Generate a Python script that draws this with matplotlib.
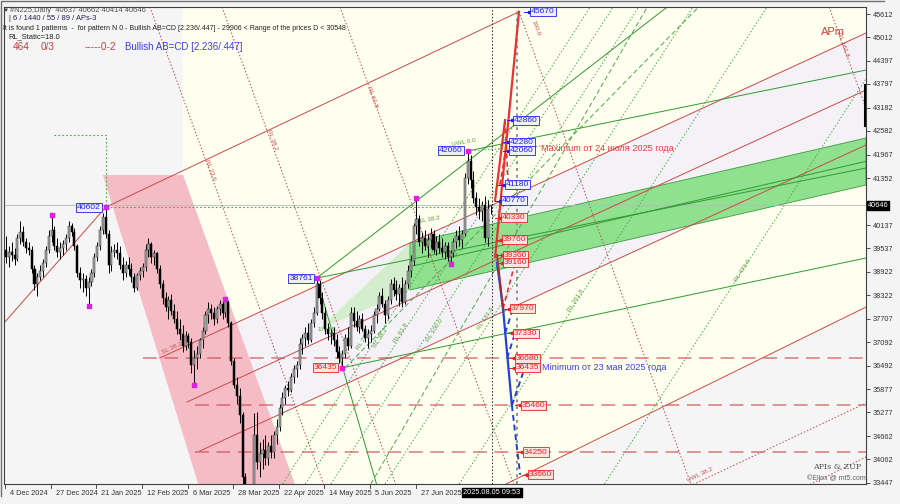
import numpy as np
import matplotlib
matplotlib.use('Agg')
import matplotlib.pyplot as plt
from matplotlib.patches import Polygon, Rectangle
from matplotlib.transforms import blended_transform_factory

plt.rcParams['font.family'] = ['Liberation Sans', 'DejaVu Sans']

# ---- data -----------------------------------------------------------------
date_labels = ['4 Dec 2024', '27 Dec 2024', '21 Jan 2025', '12 Feb 2025', '6 Mar 2025',
               '28 Mar 2025', '22 Apr 2025', '14 May 2025', '5 Jun 2025', '27 Jun 2025']
date_bars = [0, 16, 32, 48, 64, 80, 96, 112, 128, 144]

opens = [39500, 39300, 39450, 39350, 39250, 39800, 39950, 39700, 39550, 39500,
         39000, 38600, 38800, 38950, 39150, 39500, 39850, 40000, 39600, 39450,
         39550, 39650, 39800, 40100, 39950, 39600, 38900, 38700, 38750, 38500,
         38650, 38900, 39300, 39600, 40000, 40350, 39900, 39100, 39450, 39500,
         39400, 39100, 38900, 39100, 39000, 38800, 38500, 38850, 38950, 39050,
         39500, 39650, 39300, 39400, 39000, 38600, 38250, 38000, 38200, 37900,
         37700, 37450, 37300, 37000, 37250, 37100, 36500, 36700, 36800, 37150,
         37400, 37800, 37950, 37850, 37700, 37950, 38100, 37850, 38150, 37600,
         36600, 36000, 35700, 35200, 33600, 31200, 32000, 32200, 34700, 34000,
         34200, 34300, 34100, 34400, 34250, 34700, 34900, 35400, 35650, 35900,
         35850, 36200, 36400, 36500, 37050, 37200, 37350, 37150, 37600, 37850,
         38600, 38250, 37850, 37450, 37300, 37350, 37150, 36850, 36700, 36800,
         37200, 37000, 37850, 37650, 37500, 37700, 37450, 37200, 37300, 37400,
         37800, 37950, 38300, 38100, 37800, 38200, 38600, 38450, 38350, 38500,
         38150, 38600, 38950, 39200, 40100, 40300, 39700, 39800, 39600, 39750,
         39900, 39500, 39700, 39550, 39450, 39600, 39300, 39400, 39700, 39850,
         39750, 39900, 41350, 41800, 41300, 40850, 40600, 40500, 40650, 39800,
         40637]
highs = [39850, 39600, 39700, 39550, 39900, 40250, 40100, 39800, 39700, 39600,
         39100, 38900, 39100, 39250, 39600, 40000, 40400, 40100, 39800, 39700,
         39750, 39900, 40250, 40200, 40050, 39650, 39050, 38900, 38850, 38800,
         39000, 39400, 39700, 40100, 40450, 40602, 40000, 39600, 39650, 39700,
         39600, 39300, 39200, 39300, 39150, 38900, 38900, 39050, 39150, 39650,
         39800, 39700, 39500, 39450, 39100, 38700, 38400, 38300, 38350, 38100,
         37900, 37700, 37550, 37400, 37350, 37200, 36900, 37000, 37200, 37500,
         37900, 38150, 38100, 38000, 38050, 38200, 38200, 38220, 38200, 37650,
         36700, 36200, 35900, 35300, 33700, 32500, 33000, 35260, 35300, 34500,
         34600, 34700, 34500, 34700, 34800, 35100, 35500, 35800, 36000, 36100,
         36300, 36500, 36600, 37200, 37300, 37500, 37600, 37700, 38000, 38761,
         38700, 38400, 38000, 37600, 37450, 37500, 37300, 37000, 36900, 37300,
         37500, 38000, 38000, 37900, 37800, 37850, 37550, 37450, 37550, 37900,
         38100, 38400, 38500, 38200, 38300, 38750, 38800, 38700, 38600, 38800,
         38700, 39100, 39350, 40200, 40840, 40400, 39950, 40000, 39900, 40050,
         40000, 39850, 39900, 39800, 39700, 39700, 39500, 39800, 40000, 40100,
         40000, 41500, 42060, 41950, 41550, 41000, 40850, 40750, 40900, 40800,
         40662]
lows = [39150, 39050, 39200, 39100, 39200, 39650, 39600, 39400, 39350, 38900,
        38450, 38300, 38700, 38800, 39050, 39400, 39700, 39500, 39300, 39250,
        39350, 39500, 39700, 39850, 39500, 38800, 38500, 38400, 38300, 38050,
        38550, 38800, 39200, 39500, 39900, 39800, 38900, 38950, 39300, 39250,
        39000, 38700, 38800, 38850, 38650, 38400, 38450, 38700, 38800, 38950,
        39300, 39150, 39100, 38900, 38500, 38100, 37900, 37700, 37800, 37600,
        37300, 37150, 36850, 36900, 36950, 36300, 35990, 36400, 36700, 36950,
        37300, 37600, 37700, 37550, 37600, 37800, 37700, 37750, 37500, 36500,
        35900, 35500, 35000, 33300, 30800, 30800, 31500, 32000, 33800, 33600,
        33800, 33900, 33900, 34100, 34100, 34450, 34800, 35200, 35500, 35700,
        35800, 36050, 36200, 36400, 36800, 37000, 37050, 37100, 37500, 37800,
        38100, 37700, 37300, 37150, 37050, 37000, 36700, 36550, 36435, 36700,
        36900, 36950, 37500, 37400, 37350, 37400, 37100, 36950, 37100, 37350,
        37600, 37900, 38000, 37600, 37700, 38100, 38300, 38200, 38050, 38000,
        38100, 38500, 38800, 39100, 39900, 39600, 39400, 39500, 39300, 39550,
        39400, 39350, 39400, 39300, 39250, 39200, 39130, 39300, 39550, 39600,
        39550, 39850, 41200, 41100, 40700, 40400, 40300, 40250, 39700, 39600,
        40414]
closes = [39300, 39450, 39350, 39250, 39800, 39950, 39700, 39550, 39500, 39000,
          38600, 38800, 38950, 39150, 39500, 39850, 40000, 39600, 39450, 39550,
          39650, 39800, 40100, 39950, 39600, 38900, 38700, 38750, 38500, 38650,
          38900, 39300, 39600, 40000, 40350, 39900, 39100, 39450, 39500, 39400,
          39100, 38900, 39100, 39000, 38800, 38500, 38850, 38950, 39050, 39500,
          39650, 39300, 39400, 39000, 38600, 38250, 38000, 38200, 37900, 37700,
          37450, 37300, 37000, 37250, 37100, 36500, 36700, 36800, 37150, 37400,
          37800, 37950, 37850, 37700, 37950, 38100, 37850, 38150, 37600, 36600,
          36000, 35700, 35200, 33600, 31200, 32000, 32200, 34700, 34000, 34200,
          34300, 34100, 34400, 34250, 34700, 34900, 35400, 35650, 35900, 35850,
          36200, 36400, 36500, 37050, 37200, 37350, 37150, 37600, 37850, 38600,
          38250, 37850, 37450, 37300, 37350, 37150, 36850, 36700, 36800, 37200,
          37000, 37850, 37650, 37500, 37700, 37450, 37200, 37300, 37400, 37800,
          37950, 38300, 38100, 37800, 38200, 38600, 38450, 38350, 38500, 38150,
          38600, 38950, 39200, 40100, 40300, 39700, 39800, 39600, 39750, 39900,
          39500, 39700, 39550, 39450, 39600, 39300, 39400, 39700, 39850, 39750,
          39900, 41350, 41800, 41300, 40850, 40600, 40500, 40650, 39800, 40550,
          40646]

price_ticks = [45612, 45012, 44397, 43797, 43182, 42582, 41967, 41352, 40752, 40137,
               39537, 38922, 38322, 37707, 37092, 36492, 35877, 35277, 34662, 34062, 33447]
last_price = 40646
cursor_bar = 170.5
cursor_label = '2025.08.05 09:53'

# swing points marked in magenta
swing_high_bars = [16, 35, 77, 109, 144, 162]
swing_low_bars = [29, 66, 118, 156]

# labelled swing prices (box to the left of the point)
swing_vals = [40602, 42060, 38761, 36435]
swing_bars = [34, 161, 108.5, 117]
swing_is_blue = [True, True, True, False]

# AB=CD target prices
blue_vals = [45670, 42860, 42280, 42060, 41180, 40770]
blue_bars = [183.9, 178.0, 176.5, 176.5, 175.0, 173.7]
red_vals = [40330, 39760, 39360, 39160, 37970, 37330, 36680, 36435, 35460, 34250, 33660]
red_bars = [173.7, 174.0, 174.4, 174.4, 176.8, 178.0, 178.6, 178.6, 180.7, 181.4, 183.2]

# trend / channel lines as (bar1, price1, bar2, price2)
red_lines = [(-0.4, 37622, 35, 40602), (35, 40602, 180, 45670),
             (54, 36689, 301.75, 45119), (63.5, 35547, 301.75, 43641),
             (68, 34276, 301.75, 42214), (173.3, 33342, 301.75, 38011)]
green_lines = [(109, 38761, 232, 45794), (109, 38761, 301.75, 41617),
               (162, 42060, 301.75, 44159), (118, 36435, 301.75, 39283),
               (141.75, 39060, 301.75, 41790), (109, 38761, 130, 33420)]
green_dotted = [(97, 33420, 205, 45794), (105, 33420, 213, 45794), (114, 33420, 222, 45794),
                (133, 33420, 241, 45794), (159, 33420, 267, 45794), (210, 33420, 318, 45794),
                (162, 42060, 194, 42215)]
green_dashed = [(128, 33420, 225, 45794), (119, 36435, 243, 45794)]
red_dotted = [(50.5, 45794, 111.4, 33420), (75.8, 45794, 136.7, 33420),
              (117.2, 45794, 178.1, 33420), (180, 45670, 240.3, 33420),
              (288.8, 45794, 349.7, 33420), (240, 33368, 301.75, 35521),
              (281, 33368, 301.75, 34120)]
level_prices = [36680, 35460, 34250]
level_start = [48, 66.3, 66.3]
green_box_path = [(17, 42473), (35, 42473), (35, 40602), (172, 40602)]

# pattern legs
red_solid_legs = [(171.6, 39300, 180, 45670), (171.6, 40770, 175.1, 42860)]
red_dash_legs = [(175.1, 42860, 176.2, 41180), (173.3, 41180, 175.8, 42280),
                 (174.4, 37970, 178.6, 39160)]
blue_solid_legs = [(172.3, 39160, 174.4, 37970), (174.4, 37970, 177.5, 35460)]
blue_dash_legs = [(177.5, 35460, 180.4, 33660), (177.5, 35460, 181.4, 36300),
                  (175.8, 36680, 178.6, 37330), (175.1, 37330, 177.9, 37970)]
brown_legs = [(172.3, 39360, 174.4, 37970)]

# filled zones (bar, price) vertices
ivory_zone = [(62, 45794), (301.75, 45794), (301.75, 38011), (173.3, 33265), (102.1, 33265), (62.1, 41436)]
lavender_zone = [(78.6, 37519), (301.75, 45119), (301.75, 42214), (78.6, 34639)]
pink_zone = [(34.0, 41436), (62.1, 41436), (102.1, 33265), (68.1, 33265)]
green_band = [(141.75, 39672), (301.75, 42395), (301.75, 41176), (141.75, 38453)]
green_wedge = [(109.5, 37415), (141.75, 39672), (141.75, 38453)]

# ---- figure ----------------------------------------------------------------
fig = plt.figure(figsize=(9, 5.04), dpi=100)
bg = fig.add_axes([0, 0, 1, 1], zorder=0)
bg.axis('off')
bg.add_patch(Rectangle((0, 0), 900, 504, color='#f4f4f4'))
bg.imshow(np.repeat(np.linspace(0.95, 0.40, 16)[None, :], 4, axis=0), cmap='gray',
          vmin=0, vmax=1, extent=(884, 900, 500, 0), aspect='auto')
bg.imshow(np.repeat(np.linspace(0.97, 0.82, 12)[:, None], 4, axis=1), cmap='gray',
          vmin=0, vmax=1, extent=(0, 884, 496, 484), aspect='auto')
bg.imshow(np.repeat(np.linspace(0.75, 0.30, 8)[:, None], 4, axis=1), cmap='gray',
          vmin=0, vmax=1, extent=(0, 900, 504, 496), aspect='auto')
bg.plot([0.5, 0.5, 884], [496, 0.5, 0.5], color='#707070', lw=1)
bg.set_xlim(0, 900)
bg.set_ylim(504, 0)

ax = fig.add_axes([4 / 900, 20 / 504, 862 / 900, 477 / 504], zorder=1)
ax.set_xlim(-0.7, 301.75)
ax.set_ylim(33420, 45794)
ax.set_facecolor('#f5f5f5')
for s in ax.spines.values():
    s.set_color('#404040')
    s.set_linewidth(0.8)

ax.add_patch(Polygon(ivory_zone, closed=True, fc='#fffff0', ec='none', zorder=0.1))
ax.add_patch(Polygon(lavender_zone, closed=True, fc='#f4f2f7', ec='none', zorder=0.2))
ax.add_patch(Polygon(pink_zone, closed=True, fc='#f6bcc6', ec='none', zorder=0.3))
ax.add_patch(Polygon(green_wedge, closed=True, fc='#d4eecd', ec='none', zorder=0.4))
ax.add_patch(Polygon(green_band, closed=True, fc='#8fe08f', ec='#3c9c3c', lw=0.6, zorder=0.5))

for b1, p1, b2, p2 in red_lines:
    ax.plot([b1, b2], [p1, p2], color='#cc4848', lw=0.7, zorder=2)
for b1, p1, b2, p2 in green_lines:
    ax.plot([b1, b2], [p1, p2], color='#2f9a2f', lw=0.7, zorder=2)
for b1, p1, b2, p2 in green_dotted:
    ax.plot([b1, b2], [p1, p2], color='#4aa84a', lw=0.7, ls=(0, (1.5, 2)), zorder=2)
for b1, p1, b2, p2 in green_dashed:
    ax.plot([b1, b2], [p1, p2], color='#4aa84a', lw=0.7, ls=(0, (5, 3)), zorder=2)
for b1, p1, b2, p2 in red_dotted:
    ax.plot([b1, b2], [p1, p2], color='#c04848', lw=0.7, ls=(0, (1.5, 2)), zorder=2)
for lv, st in zip(level_prices, level_start):
    ax.plot([st, 301.75], [lv, lv], color='#cc5050', lw=1.1, ls=(0, (9, 5)), alpha=0.75, zorder=2)
ax.axhline(last_price, color='#b8b8b8', lw=0.6, zorder=1.5)
gx, gy = zip(*green_box_path)
ax.plot(gx, gy, color='#4aa84a', lw=0.8, ls=(0, (1.5, 2)), zorder=2)
ax.axvline(cursor_bar, color='#202020', lw=0.7, ls=(0, (1.5, 2)), zorder=2)
ax.axvline(179.3, color='#909090', lw=1.4, ls=(0, (1.5, 2)), zorder=2)
ax.plot([301.3, 301.3], [42733, 43770], color='black', lw=2.2, zorder=3)

# candles
idx = np.arange(len(closes))
o = np.array(opens); h = np.array(highs); l = np.array(lows); c = np.array(closes)
up = c >= o
ax.vlines(idx, l, h, color='black', lw=0.7, zorder=5)
lo = np.minimum(o, c)
hh = np.maximum(np.abs(c - o), 25)
ax.bar(idx[up], hh[up], bottom=lo[up], width=0.72, color='#a6a6a6', edgecolor='#303030', lw=0.35, zorder=6)
ax.bar(idx[~up], hh[~up], bottom=lo[~up], width=0.72, color='black', edgecolor='black', lw=0.35, zorder=6)
ax.scatter(swing_high_bars, h[swing_high_bars], s=5, marker='s', color='#e020e0', zorder=7)
ax.scatter(swing_low_bars, l[swing_low_bars], s=5, marker='s', color='#e020e0', zorder=7)

# pattern legs
for b1, p1, b2, p2 in red_solid_legs:
    ax.plot([b1, b2], [p1, p2], color='#ee3030', lw=1.6, zorder=8)
for b1, p1, b2, p2 in red_dash_legs:
    ax.plot([b1, b2], [p1, p2], color='#ee3030', lw=1.2, ls=(0, (3, 2)), zorder=8)
for b1, p1, b2, p2 in blue_solid_legs:
    ax.plot([b1, b2], [p1, p2], color='#2040e0', lw=1.6, zorder=8)
for b1, p1, b2, p2 in blue_dash_legs:
    ax.plot([b1, b2], [p1, p2], color='#2040e0', lw=1.4, ls=(0, (3, 2)), zorder=8)
for b1, p1, b2, p2 in brown_legs:
    ax.plot([b1, b2], [p1, p2], color='#a03030', lw=1.4, zorder=8)

# price boxes
def price_box(b, v, blue, ha='left'):
    col = '#2020ee' if blue else '#ee2020'
    fc = '#eef0ff' if blue else '#ffe4e4'
    ax.text(b, v, str(v), fontsize=6.1, color=col, ha=ha, va='center', zorder=10,
            bbox=dict(boxstyle='square,pad=0.12', fc=fc, ec=col, lw=0.6))

for v, b in zip(blue_vals, blue_bars):
    ax.plot([b - 2.2, b], [v, v], color='#2020ee', lw=0.7, zorder=9)
    ax.plot([b - 0.3], [v], marker='s', ms=1.8, color='#2020ee', zorder=9)
    price_box(b + 0.3, v, True)
for v, b in zip(red_vals, red_bars):
    ax.plot([b - 2.2, b], [v, v], color='#ee2020', lw=0.7, zorder=9)
    ax.plot([b - 0.3], [v], marker='s', ms=1.8, color='#ee2020', zorder=9)
    price_box(b + 0.3, v, False)
for v, b, isb in zip(swing_vals, swing_bars, swing_is_blue):
    price_box(b - 0.8, v, isb, ha='right')

# annotations
ax.text(187.6, 42136, 'Maximum от 24 июля 2025 года', color='#f03c3c', fontsize=6.6, va='center', zorder=10)
ax.text(187.9, 36435, 'Minimum от 23 мая 2025 года', color='#3c3cf0', fontsize=6.6, va='center', zorder=10)
ax.text(286, 45145, 'APm', color='#e03c3c', fontsize=8, va='center', zorder=10)

green_tags = [('UWL 0.0', 160.5, 42292, 10), ('SL 38.2', 148.5, 40268, 10), ('1/2 ML', 113, 37415, 0),
              ('RL 23.6', 125.5, 37155, 57), ('RL 38.2', 131.5, 37207, 57), ('RL 61.8', 138.5, 37337, 57),
              ('RL 100.0', 150.5, 37415, 57), ('RL 161.8', 168.5, 37726, 57),
              ('RL 261.8', 200, 38193, 57), ('RL 423.6', 258.5, 38971, 57)]
for s, b, p, r in green_tags:
    ax.text(b, p, s, color='#5a9e3a', fontsize=4.6, rotation=r, ha='center', va='center', zorder=4)
red_tags = [('RL 23.6', 71.6, 41565, -70), ('RL 38.2', 93.3, 42344, -70), ('RL 61.8', 128.4, 43459, -70),
            ('100.0', 186, 45249, -70), ('RL 161.8', 293.7, 44808, -70),
            ('UWL 38.2', 243.5, 33654, 25), ('SL 38.2', 58.2, 36948, 25)]
for s, b, p, r in red_tags:
    ax.text(b, p, s, color='#c85050', fontsize=4.6, rotation=r, ha='center', va='center', zorder=4)

# right axis (the 40752 label sits under the current price box)
ax.yaxis.tick_right()
ax.set_yticks(price_ticks)
ax.set_yticklabels(['' if v == 40752 else str(v) for v in price_ticks])
ax.tick_params(axis='y', direction='out', length=3, width=0.6, pad=2, labelsize=5.3,
               colors='#333333')
ax.set_xticks([])
tr = blended_transform_factory(ax.transAxes, ax.transData)
ax.text(1.002, last_price, str(last_price), transform=tr, fontsize=5.3, color='white',
        ha='left', va='center', zorder=20, clip_on=False,
        bbox=dict(boxstyle='square,pad=0.15', fc='black', ec='black'))

# bottom dates
trx = blended_transform_factory(ax.transData, ax.transAxes)
for b, s in zip(date_bars, date_labels):
    ax.plot([b - 0.3, b - 0.3], [0, -0.008], transform=trx, color='#333333', lw=0.6, clip_on=False)
    ax.text(b + 1.5, -0.012, s, transform=trx, fontsize=5.3, color='#333333', ha='left', va='top',
            clip_on=False)
ax.text(cursor_bar, -0.01, cursor_label, transform=trx, fontsize=5.3, color='white', ha='center',
        va='top', clip_on=False, zorder=20,
        bbox=dict(boxstyle='square,pad=0.15', fc='black', ec='black'))

# header text
def ftext(x, y, s, **kw):
    fig.text(x / 900, 1 - y / 504, s, va='center', ha='left', **kw)

ftext(3, 10, '▼', fontsize=4.5, color='#404040')
ftext(10, 10, '#N225,Daily  40637 40662 40414 40646', fontsize=5.4, color='#505050')
ftext(9, 19, '| 6 / 1440 / 55 / 89 / APs-3', fontsize=5.4, color='#202050')
ftext(3, 28, 'It is found 1 patterns  -  for pattern N 0 - Bullish AB=CD [2.236/.447] - 29906 < '
             'Range of the prices D < 30548', fontsize=5.0, color='#202020')
ftext(8, 37, 'RL_Static=18.0', fontsize=5.4, color='#202020')
ftext(13, 47, '464', fontsize=7.2, color='#c84040')
ftext(41, 47, '0/3', fontsize=7.2, color='#c84040')
ftext(85, 47, '-----0-2', fontsize=7.2, color='#c84040')
ftext(125, 47, 'Bullish AB=CD [2.236/.447]', fontsize=7.0, color='#3c3cf0')
ftext(813, 467, 'APIs & ZUP', fontsize=5.8, color='#505050', family='DejaVu Serif')
ftext(807, 478, '©Eljox @ mt5.com', fontsize=5.0, color='#606060')

fig.savefig('out.png', dpi=100)
